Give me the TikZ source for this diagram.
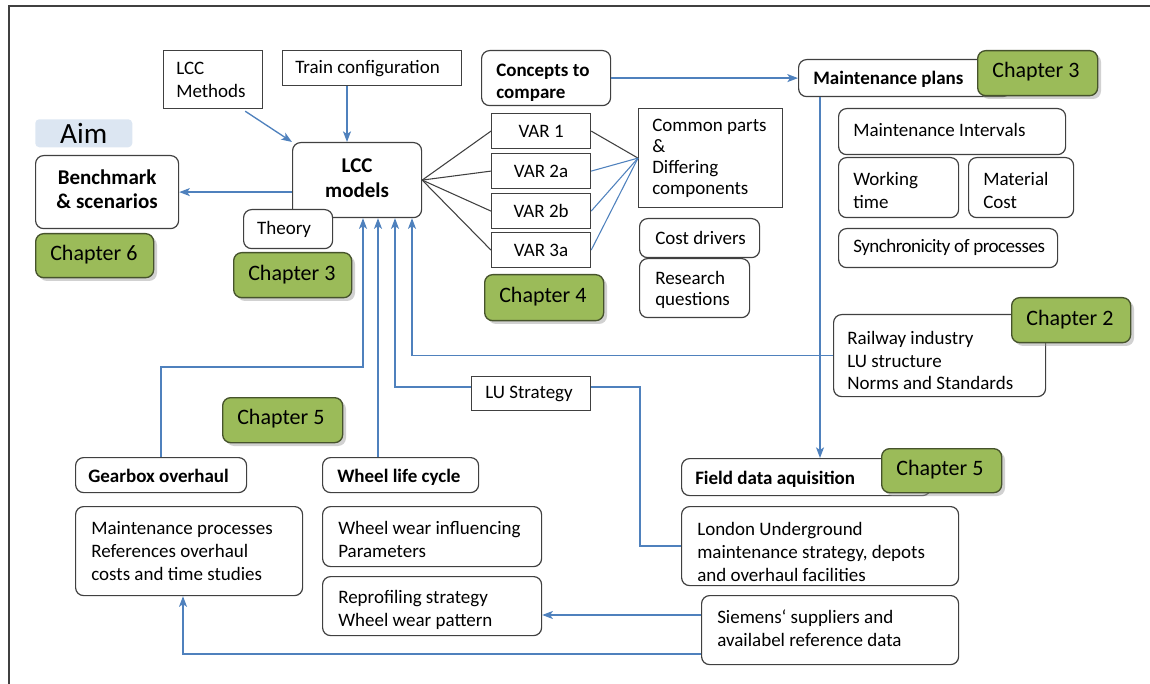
\documentclass[tikz,border=0pt]{standalone}
\usepackage{fontspec}
\setmainfont{Carlito}
\usetikzlibrary{arrows.meta,shadows,calc}

\definecolor{linkblue}{HTML}{4F81BD}
\definecolor{edgegray}{HTML}{404040}
\definecolor{chapgreen}{HTML}{9BBB59}
\definecolor{chapedge}{HTML}{46532C}
\definecolor{aimblue}{HTML}{DCE6F2}

\newcommand\bodysize{\fontsize{14.25}{17}\selectfont}
\newcommand\tightsize{\fontsize{14.25}{15.75}\selectfont}
\newcommand\headsize{\fontsize{14.25}{16.5}\selectfont\bfseries}
\newcommand\bigheadsize{\fontsize{15.75}{18.5}\selectfont\bfseries}
\newcommand\chapsize{\fontsize{16.5}{18}\selectfont}
\newcommand\aimsize{\fontsize{22}{24}\selectfont}

% A box spanning (x1,y1)-(x2,y2) in pixel units, with its text.
% \place{box style}{text style}{name}{x1}{y1}{x2}{y2}{text offset x,y}{text}
\newcommand\place[9]{%
  \pgfmathsetmacro\plW{(#6-#4)*0.75}%
  \pgfmathsetmacro\plH{(#7-#5)*0.75}%
  \node[#1, anchor=north west, inner sep=0pt,
        minimum width=\plW pt, minimum height=\plH pt] (#3) at (#4,#5) {};
  \node[txt, #2, anchor=west, align=left] (#3-text) at ($(#3.west)+(#8)$) {#9};}
% the same with the text centred in the box
\newcommand\placec[9]{%
  \pgfmathsetmacro\plW{(#6-#4)*0.75}%
  \pgfmathsetmacro\plH{(#7-#5)*0.75}%
  \node[#1, anchor=north west, inner sep=0pt,
        minimum width=\plW pt, minimum height=\plH pt] (#3) at (#4,#5) {};
  \node[txt, #2, align=center] (#3-text) at ($(#3.center)+(#8)$) {#9};}

\tikzset{
  plain/.style={draw=edgegray, line width=0.9pt, fill=white},
  soft/.style={plain, rounded corners=6pt},
  txt/.style={inner sep=0pt, font=\bodysize},
  head/.style={font=\headsize},
  bighead/.style={font=\bigheadsize},
  tight/.style={font=\tightsize},
  narrow/.style={font=\bodysize\addfontfeature{LetterSpace=-2.6}},
  chap/.style={draw=chapedge, fill=chapgreen, line width=1pt, rounded corners=6pt,
    drop shadow={shadow xshift=2.5pt, shadow yshift=-2.5pt, fill=black!40, opacity=0.45}},
  chaptext/.style={font=\chapsize},
  aim/.style={fill=aimblue, rounded corners=3pt},
  aimtext/.style={font=\aimsize},
  link/.style={draw=linkblue, line width=1pt},
  arr/.style={link, -{Stealth[length=8pt,width=6pt,inset=2pt]}},
  spoke/.style={draw=edgegray, line width=0.8pt},
}

\begin{document}
\begin{tikzpicture}[x=0.75pt, y=-0.75pt]
\useasboundingbox (0,0) rectangle (1150,684);

% page frame
\draw[edgegray, line width=1pt] (9,684) -- (9,6) -- (1150,6);

% left column: aim and inputs
\place{plain}{}{methods}{163}{50}{262}{108}{13,0}{LCC\\Methods}
\place{plain}{}{train}{282}{50}{461}{85}{13,0}{Train configuration}
\placec{aim}{aimtext}{aim}{35}{119}{132}{147}{0,0}{Aim}
\placec{soft}{bighead}{bench}{35}{155}{178}{228}{0,-3}{Benchmark\\\& scenarios}
\place{chap}{chaptext}{ch6}{35}{233}{153}{277}{15,-1}{Chapter 6}
\placec{soft}{bighead}{lcc}{292}{142}{421}{217}{0,-2}{LCC\\models}
\placec{soft}{}{theory}{243}{209}{332}{248}{-4,0}{Theory}
\place{chap}{chaptext}{ch3a}{233}{252}{351}{297}{15,-1}{Chapter 3}

% variants to compare
\place{soft}{head}{concepts}{481}{50}{610}{105}{15,5}{Concepts to\\compare}
\placec{plain}{}{var1}{491}{113}{590}{148}{0,0}{VAR 1}
\placec{plain}{}{var2a}{491}{153}{590}{188}{0,0}{VAR 2a}
\placec{plain}{}{var2b}{491}{193}{590}{228}{0,0}{VAR 2b}
\placec{plain}{}{var3a}{491}{232}{590}{267}{0,0}{VAR 3a}
\place{plain}{tight}{common}{638}{108}{782}{207}{14,0}{Common parts\\\&\\Differing\\components}
\place{soft}{}{costd}{639}{218}{759}{257}{16,0}{Cost drivers}
\place{soft}{tight}{research}{639}{258}{749}{317}{16,2}{Research\\questions}
\place{chap}{chaptext}{ch4}{484}{274}{603}{320}{15,-1}{Chapter 4}

% maintenance plans
\place{soft}{head}{maint}{798}{59}{1010}{96}{15,1}{Maintenance plans}
\place{chap}{chaptext}{ch3b}{977}{50}{1097}{95}{15,-2}{Chapter 3}
\place{soft}{}{intervals}{838}{108}{1065}{154}{15,-2}{Maintenance Intervals}
\place{soft}{}{worktime}{838}{157}{958}{217}{15,3}{Working\\time}
\place{soft}{}{matcost}{968}{157}{1073}{217}{15,3}{Material\\Cost}
\place{soft}{narrow}{sync}{838}{228}{1057}{267}{15,-1}{Synchronicity of processes}
\place{soft}{}{rail}{833}{314}{1045}{396}{14,5}{Railway industry\\LU structure\\Norms and Standards}
\place{chap}{chaptext}{ch2}{1011}{297}{1130}{342}{15,-1}{Chapter 2}

% data sources
\place{plain}{}{lu}{471}{376}{590}{410}{14,0}{LU Strategy}
\place{chap}{chaptext}{ch5a}{222}{397}{342}{442}{15,-2}{Chapter 5}
\place{soft}{head}{gear}{75}{457}{246}{492}{13,1}{Gearbox overhaul}
\place{soft}{head}{wheel}{322}{457}{478}{492}{15,2}{Wheel life cycle}
\place{soft}{head}{field}{681}{458}{930}{495}{14,2}{Field data aquisition}
\place{chap}{chaptext}{ch5b}{881}{448}{1001}{492}{15,-1}{Chapter 5}
\place{soft}{}{gdet}{75}{506}{302}{595}{16,0}{Maintenance processes\\References overhaul\\costs and time studies}
\place{soft}{}{wear}{322}{506}{541}{566}{16,3}{Wheel wear influencing\\Parameters}
\place{soft}{}{reprof}{322}{576}{541}{635}{16,4}{Reprofiling strategy\\Wheel wear pattern}
\place{soft}{}{london}{681}{506}{958}{585}{16,6}{London Underground\\maintenance strategy, depots\\and overhaul facilities}
\place{soft}{}{siem}{701}{595}{958}{664}{16,-2}{Siemens‘ suppliers and\\availabel reference data}

% guide coordinates for the connector routes
\coordinate (xa) at (363,0);
\coordinate (xb) at (378,0);
\coordinate (xc) at (395,0);
\coordinate (xd) at (412,0);
\coordinate (xe) at (820,0);
\coordinate (xf) at (640,0);
\coordinate (xg) at (183,0);
\coordinate (xh) at (347,0);
\coordinate (ya) at (0,367);
\coordinate (yb) at (0,387);
\coordinate (yc) at (0,615);
\coordinate (yd) at (0,654);

% connectors
\draw[arr] (lcc.west |- bench.east) -- (bench.east);
\draw[arr] ($(methods.south east)+(-18,2)$) -- (lcc.north west);
\draw[arr] (train.south -| xh) -- (lcc.north -| xh);
\draw[arr] (gear.north) |- (xa |- ya) -- (lcc.south -| xa);
\draw[arr] (wheel.north -| xb) -- (lcc.south -| xb);
\draw[arr] (lu.west |- yb) -- (xc |- yb) -- (lcc.south -| xc);
\draw[arr] (rail.west) -| (lcc.south -| xd);
\draw[link] (lu.east |- yb) -- (xf |- yb) -- (xf |- london.west) -- (london.west);
\draw[arr] (concepts.east) -- (maint.west);
\draw[arr] (maint.south -| xe) -- (field.north -| xe);
\draw[arr] (siem.west |- yc) -- (reprof.east |- yc);
\draw[arr] (siem.west |- yd) -| (gdet.south -| xg);

\foreach \v in {var1,var2a,var2b,var3a}
  \draw[spoke] (lcc.east) -- (\v.west);
\draw[spoke] (var1.east) -- (common.west);
\foreach \v in {var2a,var2b,var3a}
  \draw[link, line width=0.8pt] (\v.east) -- (common.west);

\end{tikzpicture}
\end{document}
